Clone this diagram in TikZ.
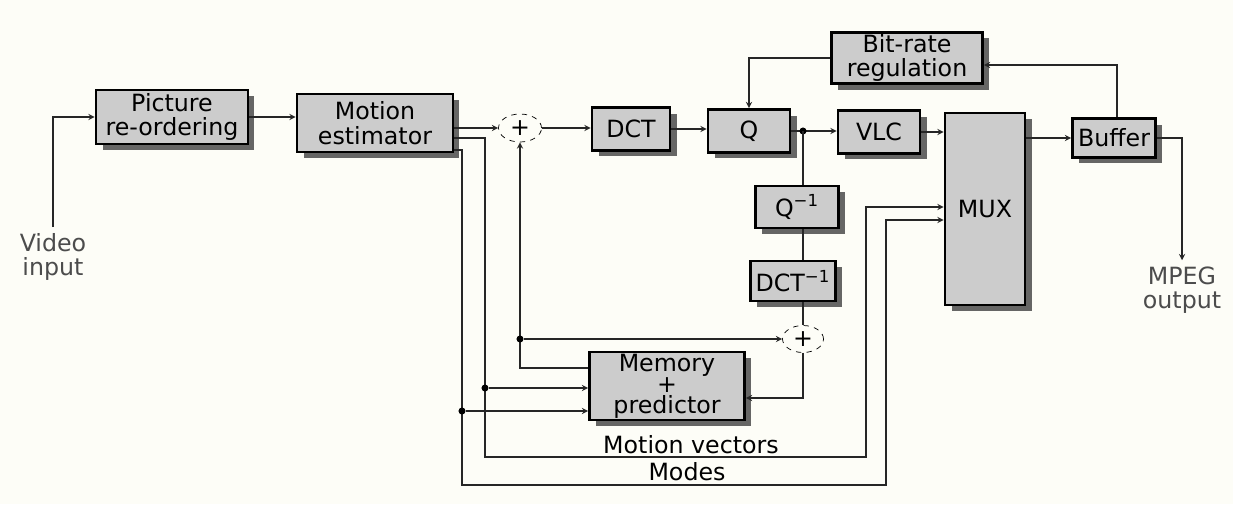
\documentclass[tikz,border=0pt]{standalone}
\usepackage{fontspec}
\setmainfont{DejaVu Sans}
\usetikzlibrary{shapes.geometric,shadows}
\definecolor{paper}{RGB}{253,253,247}
\begin{document}
\begin{tikzpicture}[x=0.02cm,y=-0.02cm,>=stealth,
  font=\fontsize{13.5}{14}\selectfont,
  blk/.style={draw,line width=1.6pt,fill=black!20,align=center,inner sep=1pt,
    drop shadow={shadow xshift=0.13cm,shadow yshift=-0.12cm,fill=black!70,opacity=0.85}},
  sum/.style={ellipse,draw,dashed,thin,inner sep=0pt,fill=paper},
  line/.style={line width=0.6pt,black!85},
  dot/.style={circle,fill=black,inner sep=0pt,minimum size=4pt},
  lbl/.style={text=black!70,align=center}]
  \fill[paper] (0,0) rectangle (1233,504);
  \useasboundingbox (0,0) rectangle (1233,504);

  \node[blk,minimum width=3.04cm,minimum height=1.08cm] (pic) at (172,117) {Picture\\re-ordering};
  \node[blk,minimum width=3.12cm,minimum height=1.16cm] (me) at (375,123) {Motion\\estimator};
  \node[sum,minimum width=0.86cm,minimum height=0.56cm] (s1) at (520,128) {+};
  \node[blk,minimum width=1.56cm,minimum height=0.86cm] (dct) at (631,129) {DCT};
  \node[blk,minimum width=1.64cm,minimum height=0.86cm] (q) at (749,131) {Q};
  \node[blk,minimum width=1.64cm,minimum height=0.86cm] (vlc) at (879,132) {VLC};
  \node[blk,minimum width=1.6cm,minimum height=3.84cm] (mux) at (985,209) {MUX};
  \node[blk,minimum width=1.66cm,minimum height=0.78cm] (buf) at (1114,138) {Buffer};
  \node[blk,minimum width=3.02cm,minimum height=1.02cm] (brr) at (907,58) {Bit-rate\\regulation};
  \node[blk,minimum width=1.66cm,minimum height=0.84cm] (qi) at (797,207) {Q\textsuperscript{−1}};
  \node[blk,minimum width=1.7cm,minimum height=0.8cm] (dcti) at (793,281) {DCT\textsuperscript{−1}};
  \node[sum,minimum width=0.82cm,minimum height=0.54cm] (s2) at (803,339) {+};
  \node[blk,minimum width=3.1cm,minimum height=1.36cm,inner sep=0pt,
    font=\fontsize{13.5}{12}\selectfont] (mem) at (667,386) {Memory\\+\\predictor};

  \node[lbl] (vin) at (53,257) {Video\\input};
  \node[lbl] (mout) at (1182,290) {MPEG\\output};
  \node (mvl) at (691,445) {Motion vectors};
  \node (mdl) at (687,472) {Modes};

  \coordinate (qb) at (803,131);
  \coordinate (bt) at (1117,65);
  \coordinate (mv) at (485,457);
  \coordinate (md) at (462,485);
  \coordinate (mvm) at (866,207);
  \coordinate (mdm) at (886,220);

  \draw[line,->] (vin.north) |- (pic.west);
  \draw[line,->] (pic.east) -- (pic.east -| me.west);
  \draw[line,->] (me.east |- s1.west) -- (s1.west);
  \draw[line,->] (s1.east) -- (s1.east -| dct.west);
  \draw[line,->] (dct.east) -- (dct.east -| q.west);
  \draw[line,->] (q.east) -- (q.east -| vlc.west);
  \draw[line,->] (vlc.east) -- (vlc.east -| mux.west);
  \draw[line,->] (mux.east |- buf.west) -- (buf.west);
  \draw[line,->] (buf.north -| bt) -- (bt) -- (bt -| brr.east);
  \draw[line,->] (brr.west) -| (q.north);
  \draw[line,->] (buf.east) -| (mout.north);

  \node[dot] (qbd) at (qb) {};
  \draw[line] (qb) -- (qb |- qi.north);
  \draw[line] (qi.south -| qb) -- (dcti.north -| qb);
  \draw[line] (dcti.south -| qb) -- (s2.north);

  \draw[line,->] (me.east |- 0,138) -| (mv) -| (mvm) -- (mvm -| mux.west);
  \draw[line,->] (me.east |- 0,150) -| (md) -| (mdm) -- (mdm -| mux.west);
  \node[dot] (mvd) at (485,388) {};
  \node[dot] (mdd) at (462,411) {};
  \draw[line,->] (mvd) -- (mvd -| mem.west);
  \draw[line,->] (mdd) -- (mdd -| mem.west);

  \draw[line,->] (mem.west |- 0,368) -| (s1.south);
  \node[dot] (fbd) at (520,339) {};
  \draw[line,->] (fbd) -- (fbd -| s2.west);
  \draw[line,->] (s2.south) |- (mem.east |- 0,398);
\end{tikzpicture}
\end{document}
